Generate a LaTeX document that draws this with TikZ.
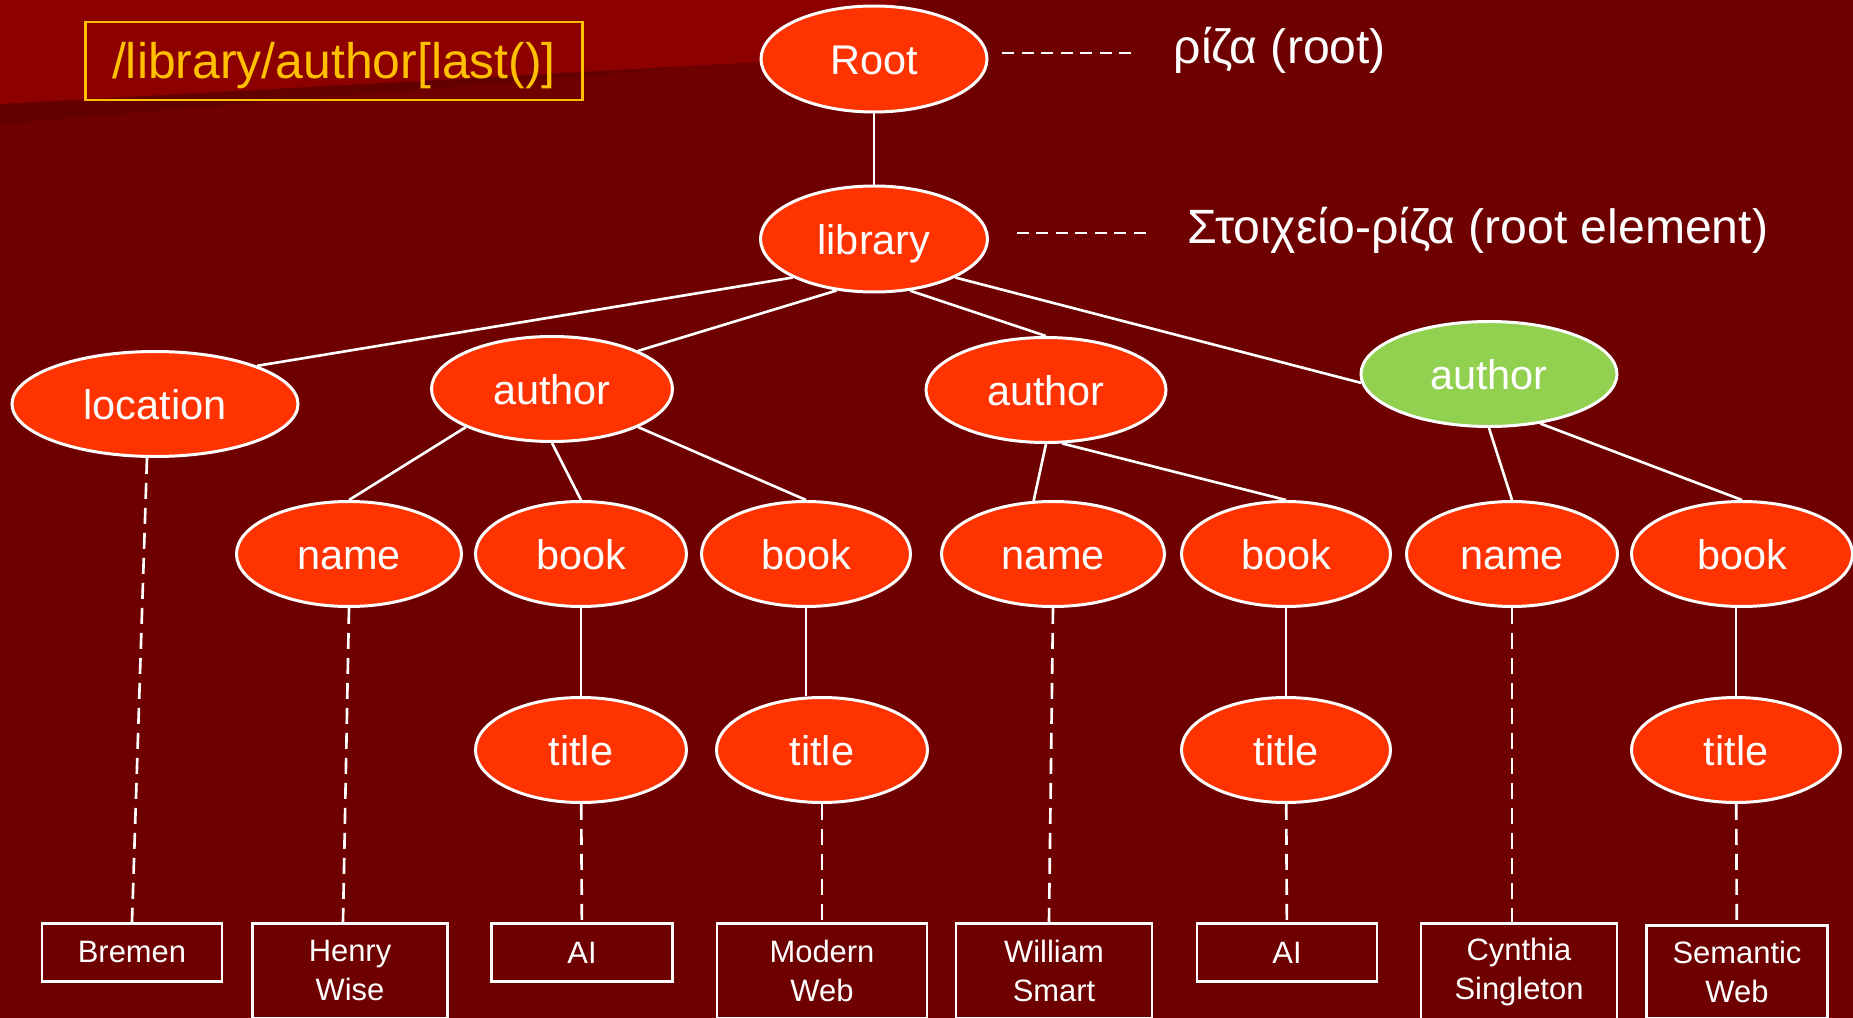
\documentclass[tikz,border=0pt]{standalone}
\usepackage{fontspec}
\setmainfont{Liberation Sans}
\usetikzlibrary{shapes.geometric}
\definecolor{bgdark}{HTML}{6E0000}
\definecolor{bglight}{HTML}{8C0000}
\definecolor{bgshade}{HTML}{620000}
\definecolor{elemred}{HTML}{FF3300}
\definecolor{elemgreen}{HTML}{92D050}
\definecolor{xpathgold}{HTML}{FFC000}

\begin{document}
\begin{tikzpicture}[x=0.1mm, y=-0.1mm,
    elem/.style={ellipse, draw=white, line width=0.85pt, fill=elemred, text=white, inner sep=0pt, minimum height=10.5mm, font=\fontsize{11.8}{14}\selectfont, text height=3mm, text depth=0pt},
    leaf/.style={draw=white, line width=0.8pt, text=white, inner sep=0pt, anchor=north, align=center, minimum height=5.8mm, font=\fontsize{8.8}{11.1}\selectfont},
    link/.style={white, line width=0.75pt},
    valuelink/.style={white, line width=0.75pt, dash pattern=on 1.6mm off 0.9mm},
    lbllink/.style={white, line width=0.7pt, dash pattern=on 1.2mm off 0.75mm},
    lbl/.style={text=white, inner sep=0pt, anchor=base west, font=\fontsize{13.7}{16}\selectfont}]
        \useasboundingbox (0,0) rectangle (1853,1018);
        \fill[bgdark] (0,0) rectangle (1853,1018);
        \fill[bgshade] (0,104) -- (700,66) -- (0,124) -- cycle;
        \fill[bglight] (0,0) -- (0,104) -- (760,62) .. controls (830,58) and (860,30) .. (900,0) -- cycle;

        \node[draw=xpathgold, line width=0.75pt, text=xpathgold, inner sep=0pt, minimum width=49.7mm, minimum height=7.8mm, text height=3.6mm, text depth=0pt, font=\fontsize{14.2}{17}\selectfont] (xpath) at (334,61) {/library/author[last()]};

        \node[elem, minimum width=22.6mm, minimum height=10.6mm] (root) at (874,59) {Root};
        \node[elem, minimum width=22.7mm, minimum height=10.6mm] (lib) at (874,239) {library};
        \node[lbl] (rootlbl) at (1173,63) {ρίζα (root)};
        \node[lbl] (liblbl) at (1187,243) {Στοιχείο-ρίζα (root element)};

        \node[elem, minimum width=28.6mm] (loc) at (155,404) {location};
        \node[elem, minimum width=24.1mm] (author1) at (552,389) {author};
        \node[elem, minimum width=24mm] (author2) at (1046,390) {author};
        \node[elem, fill=elemgreen, minimum width=25.6mm] (author3) at (1489,374) {author};

        \node[elem, minimum width=22.5mm] (name1) at (349,554) {name};
        \node[elem, minimum width=21.1mm] (book1) at (581,554) {book};
        \node[elem, minimum width=20.9mm] (book2) at (806,554) {book};
        \node[elem, minimum width=22.3mm] (name2) at (1053,554) {name};
        \node[elem, minimum width=20.9mm] (book3) at (1286,554) {book};
        \node[elem, minimum width=21.1mm] (name3) at (1512,554) {name};
        \node[elem, minimum width=22.1mm] (book4) at (1742,554) {book};

        \node[elem, minimum width=21.1mm] (title1) at (581,750) {title};
        \node[elem, minimum width=21.1mm] (title2) at (822,750) {title};
        \node[elem, minimum width=20.9mm] (title3) at (1286,750) {title};
        \node[elem, minimum width=20.9mm] (title4) at (1736,750) {title};

        \node[leaf, minimum width=18mm] (bremen) at (132,922) {Bremen};
        \node[leaf, minimum width=19.5mm, minimum height=9.5mm] (henry) at (350,922) {Henry\\Wise};
        \node[leaf, minimum width=18.1mm] (ai1) at (582,922) {AI};
        \node[leaf, minimum width=21mm, minimum height=9.5mm] (modern) at (822,922) {Modern\\Web};
        \node[leaf, minimum width=19.6mm, minimum height=9.5mm] (william) at (1054,922) {William\\Smart};
        \node[leaf, minimum width=18mm] (ai2) at (1287,922) {AI};
        \node[leaf, minimum width=19.6mm, minimum height=9.8mm] (cynthia) at (1519,922) {Cynthia\\Singleton};
        \node[leaf, minimum width=18.1mm, minimum height=9.3mm] (semantic) at (1737,924) {Semantic\\Web};

        \draw[lbllink] ([xshift=1.4mm, yshift=-0.3mm]root.east |- rootlbl.west) -- ([xshift=-3.6mm, yshift=-0.3mm]rootlbl.west);
        \draw[lbllink] ([xshift=2.8mm, yshift=-0.3mm]lib.east |- liblbl.west) -- ([xshift=-3.5mm, yshift=-0.3mm]liblbl.west);

        \draw[link] (root) -- (lib);
        \draw[link] (lib.south west) -- (loc.north east); \draw[link] (lib.234) -- (author1.north east);
        \draw[link] (lib.305) -- (author2.north); \draw[link] (lib.south east) -- (author3.184);
        \draw[link] (author1.south west) -- (name1.north); \draw[link] (author1.south) -- (book1.north); \draw[link] (author1.south east) -- (book2.north);
        \draw[link] (author2.south) -- (name2.110); \draw[link] (author2.287) -- (book3.north);
        \draw[link] (author3.south) -- (name3.north); \draw[link] (author3.316) -- (book4.north);
        \draw[link] (book1) -- (title1); \draw[link] (book2.south) -- (book2.south |- title2.north);
        \draw[link] (book3) -- (title3); \draw[link] (title4.north |- book4.south) -- (title4.north);

        \draw[valuelink] ([xshift=-0.8mm]loc.south) -- (bremen.north); \draw[valuelink] (name1.south) -- ([xshift=-0.7mm]henry.north);
        \draw[valuelink] (title1) -- (ai1); \draw[valuelink] (title2) -- (modern);
        \draw[valuelink] (name2.south) -- ([xshift=-0.5mm]william.north); \draw[valuelink] (title3) -- (ai2);
        \draw[valuelink] (name3.south) -- (name3.south |- cynthia.north); \draw[valuelink] (title4) -- (semantic);
    \end{tikzpicture}
\end{document}
